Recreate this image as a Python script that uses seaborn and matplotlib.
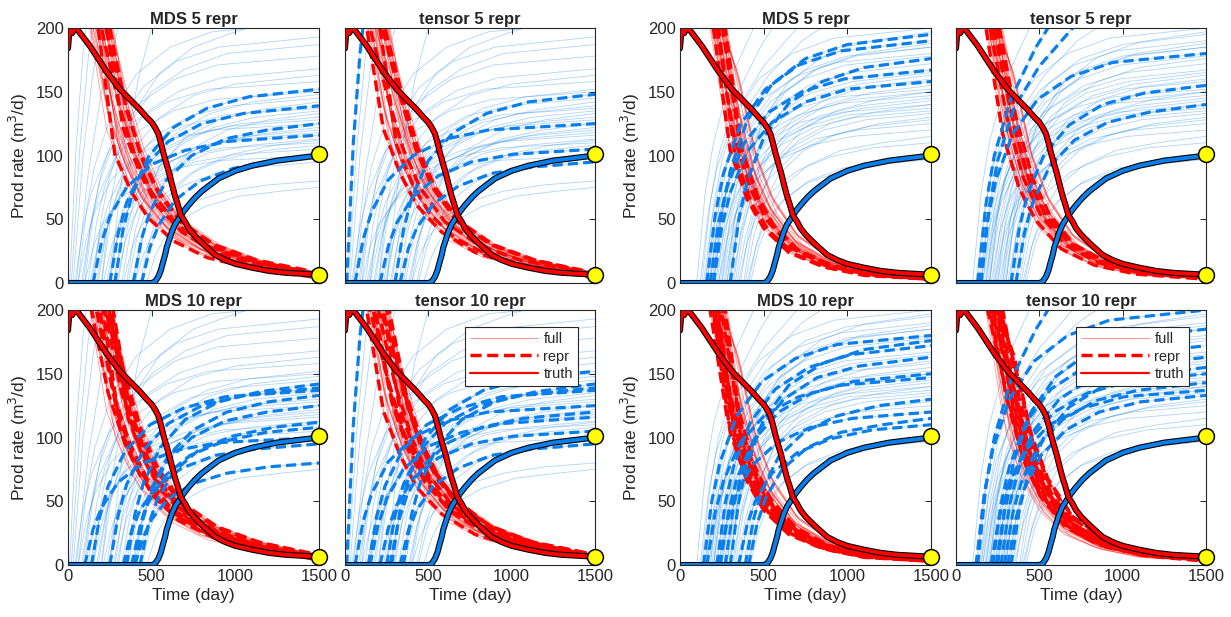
import numpy as np
import pandas as pd
import matplotlib.pyplot as plt
import seaborn as sns
from matplotlib.lines import Line2D

# truth well response (day, rate)
truth_oil_t = [0, 10, 25, 40, 55, 130, 230, 310, 430, 470, 500, 520, 540, 555, 570, 585, 605, 620, 640,
               655, 675, 700, 720, 750, 780, 820, 880, 940, 1000, 1100, 1200, 1300, 1500]
truth_oil_v = [184, 200, 196, 200, 199, 186, 166, 152, 136, 130, 126, 122, 117, 110, 102, 95, 86, 78, 68,
               62, 53, 48, 43, 38, 34, 29, 22, 18, 15, 12, 9.5, 8, 6.5]
truth_wat_t = [0, 500, 520, 540, 555, 565, 580, 590, 605, 620, 640, 660, 690, 720, 760, 800, 850, 900,
               1000, 1100, 1250, 1500]
truth_wat_v = [0, 0, 1, 5, 10, 15, 22, 28, 34, 40, 46, 50, 56, 61, 67, 72, 77, 82, 88, 92, 96, 100]
end_oil = 6.5
end_wat = 101

# left case ensemble, water rate knots (day, rate) per member
left_water = [
    [(10, 0), (50, 110), (90, 180), (130, 225)],
    [(20, 0), (70, 105), (120, 175), (170, 225)],
    [(30, 0), (90, 100), (150, 165), (220, 220)],
    [(50, 0), (120, 85), (200, 150), (300, 200), (360, 225)],
    [(250, 0), (300, 60), (350, 110), (420, 160), (500, 200), (560, 225)],
    [(60, 0), (110, 57), (160, 92), (260, 133), (410, 164), (610, 185), (860, 197), (1500, 205)],
    [(100, 0), (150, 54), (200, 87), (300, 125), (450, 154), (650, 174), (900, 185), (1500, 193)],
    [(150, 0), (200, 52), (250, 84), (350, 122), (500, 150), (700, 168), (950, 180), (1500, 187)],
    [(120, 0), (170, 47), (220, 76), (320, 109), (470, 134), (670, 151), (920, 161), (1500, 168)],
    [(200, 0), (250, 46), (300, 73), (400, 106), (550, 130), (750, 147), (1000, 156), (1500, 163)],
    [(280, 0), (330, 43), (380, 68), (480, 99), (630, 122), (830, 137), (1080, 146), (1500, 152)],
    [(300, 0), (350, 41), (400, 67), (500, 96), (650, 118), (850, 133), (1100, 142), (1500, 148)],
    [(180, 0), (230, 41), (280, 65), (380, 94), (530, 116), (730, 131), (980, 139), (1500, 145)],
    [(250, 0), (300, 39), (350, 63), (450, 90), (600, 111), (800, 125), (1050, 133), (1500, 139)],
    [(140, 0), (190, 38), (240, 62), (340, 89), (490, 110), (690, 123), (940, 132), (1500, 137)],
    [(400, 0), (450, 37), (500, 60), (600, 86), (750, 106), (950, 120), (1200, 128), (1500, 133)],
    [(230, 0), (280, 36), (330, 59), (430, 85), (580, 104), (780, 117), (1030, 125), (1500, 130)],
    [(390, 0), (440, 35), (490, 56), (590, 81), (740, 100), (940, 113), (1190, 120), (1500, 125)],
    [(60, 0), (110, 35), (160, 56), (260, 81), (410, 100), (610, 113), (860, 120), (1500, 125)],
    [(270, 0), (320, 34), (370, 54), (470, 78), (620, 96), (820, 108), (1070, 115), (1500, 120)],
    [(150, 0), (200, 32), (250, 52), (350, 75), (500, 93), (700, 104), (950, 111), (1500, 116)],
    [(430, 0), (480, 31), (530, 50), (630, 73), (780, 90), (980, 101), (1230, 108), (1500, 112)],
    [(380, 0), (430, 30), (480, 49), (580, 70), (730, 86), (930, 97), (1180, 104), (1500, 108)],
    [(210, 0), (260, 29), (310, 47), (410, 68), (560, 84), (760, 95), (1010, 101), (1500, 105)],
    [(440, 0), (490, 28), (540, 45), (640, 65), (790, 80), (990, 90), (1240, 96), (1500, 100)],
    [(330, 0), (380, 27), (430, 43), (530, 62), (680, 76), (880, 86), (1130, 91), (1500, 95)],
    [(400, 0), (450, 22), (500, 36), (600, 52), (750, 64), (950, 72), (1200, 77), (1500, 80)],
    [(470, 0), (520, 21), (570, 34), (670, 49), (820, 60), (1020, 68), (1270, 72), (1500, 75)],
    [(100, 0), (150, 28), (200, 45), (300, 65), (450, 80), (650, 90), (900, 96), (1500, 100)],
    [(350, 0), (400, 40), (450, 64), (550, 92), (700, 114), (900, 128), (1150, 136), (1500, 142)],
    [(80, 0), (130, 42), (180, 68), (280, 98), (430, 120), (630, 135), (880, 144), (1500, 150)],
    [(170, 0), (220, 36), (270, 58), (370, 83), (520, 102), (720, 115), (970, 123), (1500, 128)],
    [(320, 0), (370, 38), (420, 61), (520, 88), (670, 108), (870, 122), (1120, 130), (1500, 135)],
    [(240, 0), (290, 33), (340, 53), (440, 77), (590, 94), (790, 106), (1040, 113), (1500, 118)],
    [(130, 0), (180, 31), (230, 50), (330, 72), (480, 88), (680, 99), (930, 106), (1500, 110)],
    [(360, 0), (410, 34), (460, 55), (560, 79), (710, 98), (910, 110), (1160, 117), (1500, 122)],
    [(90, 0), (140, 50), (190, 80), (290, 116), (440, 142), (640, 160), (890, 171), (1500, 178)],
    [(40, 0), (90, 44), (140, 71), (240, 103), (390, 126), (590, 142), (840, 152), (1500, 158)],
    [(290, 0), (340, 32), (390, 51), (490, 73), (640, 90), (840, 102), (1090, 108), (1500, 113)],
    [(200, 0), (250, 60), (300, 95), (400, 135), (550, 165), (750, 185), (1000, 197), (1200, 205)],
]

# left case ensemble, oil rate knots
left_oil = [
    [(0, 260), (130, 200), (230, 121), (330, 86), (430, 61), (580, 40), (780, 24), (1030, 14), (1500, 5)],
    [(0, 265), (140, 200), (240, 135), (340, 95), (440, 68), (590, 44), (790, 27), (1040, 16), (1500, 6)],
    [(0, 270), (150, 200), (250, 149), (350, 105), (450, 75), (600, 48), (800, 30), (1050, 18), (1500, 7)],
    [(0, 255), (160, 200), (260, 115), (360, 81), (460, 58), (610, 37), (810, 23), (1060, 14), (1500, 5)],
    [(0, 260), (170, 200), (270, 135), (370, 95), (470, 68), (620, 44), (820, 27), (1070, 16), (1500, 6)],
    [(0, 275), (180, 200), (280, 162), (380, 114), (480, 82), (630, 53), (830, 32), (1080, 19), (1500, 8)],
    [(0, 258), (190, 200), (290, 121), (390, 86), (490, 61), (640, 40), (840, 24), (1090, 14), (1500, 5)],
    [(0, 262), (200, 200), (300, 142), (400, 100), (500, 71), (650, 46), (850, 28), (1100, 17), (1500, 7)],
    [(0, 250), (210, 200), (310, 108), (410, 76), (510, 54), (660, 35), (860, 22), (1110, 13), (1500, 4)],
    [(0, 270), (215, 200), (315, 155), (415, 109), (515, 78), (665, 51), (865, 31), (1115, 18), (1500, 8)],
    [(0, 262), (220, 200), (320, 135), (420, 95), (520, 68), (670, 44), (870, 27), (1120, 16), (1500, 6)],
    [(0, 255), (230, 200), (330, 121), (430, 86), (530, 61), (680, 40), (880, 24), (1130, 14), (1500, 5)],
    [(0, 268), (240, 200), (340, 149), (440, 105), (540, 75), (690, 48), (890, 30), (1140, 18), (1500, 7)],
    [(0, 260), (245, 200), (345, 128), (445, 90), (545, 65), (695, 42), (895, 26), (1145, 15), (1500, 6)],
    [(0, 262), (250, 200), (350, 135), (450, 95), (550, 68), (700, 44), (900, 27), (1150, 16), (1500, 6)],
    [(0, 252), (260, 200), (360, 115), (460, 81), (560, 58), (710, 37), (910, 23), (1160, 14), (1500, 5)],
    [(0, 262), (265, 200), (365, 135), (465, 95), (565, 68), (715, 44), (915, 27), (1165, 16), (1500, 6)],
    [(0, 258), (270, 200), (370, 121), (470, 86), (570, 61), (720, 40), (920, 24), (1170, 14), (1500, 5)],
    [(0, 258), (180, 200), (280, 128), (380, 90), (480, 65), (630, 42), (830, 26), (1080, 15), (1500, 6)],
    [(0, 250), (200, 200), (300, 108), (400, 76), (500, 54), (650, 35), (850, 22), (1100, 13), (1500, 4)],
    [(0, 268), (225, 200), (325, 149), (425, 105), (525, 75), (675, 48), (875, 30), (1125, 18), (1500, 8)],
    [(0, 256), (150, 200), (250, 128), (350, 90), (450, 65), (600, 42), (800, 26), (1050, 15), (1500, 6)],
    [(0, 248), (180, 200), (280, 101), (380, 71), (480, 51), (630, 33), (830, 20), (1080, 12), (1500, 4)],
    [(0, 262), (165, 200), (265, 142), (365, 100), (465, 71), (615, 46), (815, 28), (1065, 17), (1500, 7)],
    [(0, 252), (195, 200), (295, 115), (395, 81), (495, 58), (645, 37), (845, 23), (1095, 14), (1500, 5)],
    [(0, 258), (235, 200), (335, 128), (435, 90), (535, 65), (685, 42), (885, 26), (1135, 15), (1500, 6)],
    [(0, 266), (255, 200), (355, 149), (455, 105), (555, 75), (705, 48), (905, 30), (1155, 18), (1500, 7)],
    [(0, 262), (135, 200), (235, 135), (335, 95), (435, 68), (585, 44), (785, 27), (1035, 16), (1500, 6)],
    [(0, 262), (205, 200), (305, 135), (405, 95), (505, 68), (655, 44), (855, 27), (1105, 16), (1500, 6)],
    [(0, 266), (185, 200), (285, 149), (385, 105), (485, 75), (635, 48), (835, 30), (1085, 18), (1500, 7)],
]

# right case ensemble, water rate knots
right_water = [
    [(100, 0), (150, 70), (200, 110), (300, 160), (440, 200), (500, 215)],
    [(130, 0), (180, 62), (230, 100), (330, 145), (480, 185), (600, 210)],
    [(150, 0), (200, 60), (250, 96), (350, 138), (500, 170), (700, 200), (800, 210)],
    [(180, 0), (230, 57), (280, 92), (380, 133), (530, 163), (730, 190), (900, 205)],
    [(120, 0), (170, 56), (220, 90), (320, 130), (470, 160), (670, 180), (920, 192), (1500, 200)],
    [(200, 0), (250, 55), (300, 88), (400, 127), (550, 156), (750, 176), (1000, 187), (1500, 195)],
    [(160, 0), (210, 53), (260, 86), (360, 124), (510, 152), (710, 171), (960, 182), (1500, 190)],
    [(250, 0), (300, 52), (350, 83), (450, 120), (600, 148), (800, 167), (1050, 178), (1500, 185)],
    [(140, 0), (190, 50), (240, 81), (340, 117), (490, 144), (690, 162), (940, 173), (1500, 180)],
    [(300, 0), (350, 49), (400, 79), (500, 114), (650, 141), (850, 158), (1100, 169), (1500, 176)],
    [(220, 0), (270, 48), (320, 77), (420, 112), (570, 138), (770, 155), (1020, 165), (1500, 172)],
    [(180, 0), (230, 47), (280, 75), (380, 109), (530, 134), (730, 150), (980, 160), (1500, 167)],
    [(270, 0), (320, 46), (370, 73), (470, 106), (620, 130), (820, 147), (1070, 156), (1500, 163)],
    [(200, 0), (250, 44), (300, 71), (400, 103), (550, 126), (750, 142), (1000, 152), (1500, 158)],
    [(330, 0), (380, 43), (430, 70), (530, 101), (680, 124), (880, 140), (1130, 149), (1500, 155)],
    [(240, 0), (290, 42), (340, 68), (440, 98), (590, 120), (790, 135), (1040, 144), (1500, 150)],
    [(160, 0), (210, 41), (260, 66), (360, 96), (510, 118), (710, 132), (960, 141), (1500, 147)],
    [(290, 0), (340, 40), (390, 64), (490, 93), (640, 114), (840, 129), (1090, 137), (1500, 143)],
    [(360, 0), (410, 39), (460, 63), (560, 91), (710, 112), (910, 126), (1160, 134), (1500, 140)],
    [(210, 0), (260, 38), (310, 62), (410, 89), (560, 110), (760, 123), (1010, 132), (1500, 137)],
    [(310, 0), (360, 37), (410, 60), (510, 86), (660, 106), (860, 120), (1110, 128), (1500, 133)],
    [(390, 0), (440, 36), (490, 59), (590, 85), (740, 104), (940, 117), (1190, 125), (1500, 130)],
    [(260, 0), (310, 35), (360, 56), (460, 81), (610, 100), (810, 113), (1060, 120), (1500, 125)],
    [(410, 0), (460, 32), (510, 52), (610, 75), (760, 92), (960, 104), (1210, 110), (1500, 115)],
    [(350, 0), (400, 31), (450, 50), (550, 72), (700, 88), (900, 99), (1150, 106), (1500, 110)],
    [(420, 0), (470, 28), (520, 45), (620, 65), (770, 80), (970, 90), (1220, 96), (1500, 100)],
    [(230, 0), (280, 34), (330, 54), (430, 78), (580, 96), (780, 108), (1030, 115), (1500, 120)],
    [(280, 0), (330, 53), (380, 85), (480, 122), (630, 150), (830, 169), (1080, 180), (1500, 188)],
    [(190, 0), (240, 50), (290, 80), (390, 116), (540, 142), (740, 160), (990, 171), (1500, 178)],
    [(230, 0), (280, 46), (330, 74), (430, 107), (580, 132), (780, 149), (1030, 158), (1500, 165)],
    [(320, 0), (370, 45), (420, 72), (520, 104), (670, 128), (870, 144), (1120, 154), (1500, 160)],
    [(150, 0), (200, 43), (250, 68), (350, 99), (500, 122), (700, 137), (950, 146), (1500, 152)],
    [(280, 0), (330, 41), (380, 65), (480, 94), (630, 116), (830, 131), (1080, 139), (1500, 145)],
    [(380, 0), (430, 42), (480, 68), (580, 98), (730, 120), (930, 135), (1180, 144), (1500, 150)],
    [(250, 0), (300, 38), (350, 61), (450, 88), (600, 108), (800, 122), (1050, 130), (1500, 135)],
    [(340, 0), (390, 36), (440, 58), (540, 83), (690, 102), (890, 115), (1140, 123), (1500, 128)],
    [(200, 0), (250, 52), (300, 83), (400, 120), (550, 148), (750, 167), (1000, 178), (1500, 185)],
    [(300, 0), (350, 55), (400, 89), (500, 128), (650, 158), (850, 177), (1100, 189), (1500, 197)],
    [(400, 0), (450, 27), (500, 44), (600, 63), (750, 78), (950, 87), (1200, 93), (1500, 97)],
    [(170, 0), (220, 39), (270, 63), (370, 91), (520, 112), (720, 126), (970, 134), (1500, 140)],
]

# right case ensemble, oil rate knots
right_oil = [
    [(0, 250), (180, 200), (280, 117), (380, 74), (480, 49), (630, 27), (830, 14), (1080, 7), (1500, 3)],
    [(0, 262), (190, 200), (290, 143), (390, 90), (490, 59), (640, 33), (840, 18), (1090, 9), (1500, 5)],
    [(0, 245), (200, 200), (300, 104), (400, 66), (500, 43), (650, 24), (850, 13), (1100, 6), (1500, 3)],
    [(0, 255), (205, 200), (305, 130), (405, 82), (505, 54), (655, 30), (855, 16), (1105, 8), (1500, 4)],
    [(0, 265), (210, 200), (310, 156), (410, 98), (510, 65), (660, 36), (860, 19), (1110, 10), (1500, 5)],
    [(0, 250), (220, 200), (320, 117), (420, 74), (520, 49), (670, 27), (870, 14), (1120, 7), (1500, 3)],
    [(0, 258), (225, 200), (325, 137), (425, 86), (525, 57), (675, 32), (875, 17), (1125, 8), (1500, 4)],
    [(0, 242), (230, 200), (330, 98), (430, 62), (530, 41), (680, 23), (880, 12), (1130, 6), (1500, 3)],
    [(0, 262), (240, 200), (340, 143), (440, 90), (540, 59), (690, 33), (890, 18), (1140, 9), (1500, 5)],
    [(0, 252), (245, 200), (345, 124), (445, 78), (545, 51), (695, 29), (895, 15), (1145, 8), (1500, 4)],
    [(0, 268), (250, 200), (350, 163), (450, 103), (550, 68), (700, 38), (900, 20), (1150, 10), (1500, 6)],
    [(0, 248), (255, 200), (355, 111), (455, 70), (555, 46), (705, 26), (905, 14), (1155, 7), (1500, 3)],
    [(0, 256), (260, 200), (360, 130), (460, 82), (560, 54), (710, 30), (910, 16), (1160, 8), (1500, 4)],
    [(0, 264), (265, 200), (365, 150), (465, 94), (565, 62), (715, 35), (915, 18), (1165, 9), (1500, 5)],
    [(0, 246), (270, 200), (370, 104), (470, 66), (570, 43), (720, 24), (920, 13), (1170, 6), (1500, 3)],
    [(0, 256), (280, 200), (380, 130), (480, 82), (580, 54), (730, 30), (930, 16), (1180, 8), (1500, 4)],
    [(0, 252), (195, 200), (295, 124), (395, 78), (495, 51), (645, 29), (845, 15), (1095, 8), (1500, 4)],
    [(0, 270), (235, 200), (335, 169), (435, 107), (535, 70), (685, 39), (885, 21), (1135, 10), (1500, 6)],
    [(0, 248), (215, 200), (315, 111), (415, 70), (515, 46), (665, 26), (865, 14), (1115, 7), (1500, 3)],
    [(0, 250), (250, 200), (350, 117), (450, 74), (550, 49), (700, 27), (900, 14), (1150, 7), (1500, 3)],
    [(0, 255), (185, 200), (285, 130), (385, 82), (485, 54), (635, 30), (835, 16), (1085, 8), (1500, 4)],
    [(0, 262), (200, 200), (300, 150), (400, 94), (500, 62), (650, 35), (850, 18), (1100, 9), (1500, 5)],
    [(0, 252), (230, 200), (330, 124), (430, 78), (530, 51), (680, 29), (880, 15), (1130, 8), (1500, 4)],
    [(0, 248), (240, 200), (340, 111), (440, 70), (540, 46), (690, 26), (890, 14), (1140, 7), (1500, 3)],
    [(0, 265), (260, 200), (360, 156), (460, 98), (560, 65), (710, 36), (910, 19), (1160, 10), (1500, 5)],
    [(0, 250), (275, 200), (375, 117), (475, 74), (575, 49), (725, 27), (925, 14), (1175, 7), (1500, 3)],
    [(0, 255), (210, 200), (310, 130), (410, 82), (510, 54), (660, 30), (860, 16), (1110, 8), (1500, 4)],
    [(0, 258), (245, 200), (345, 137), (445, 86), (545, 57), (695, 32), (895, 17), (1145, 8), (1500, 4)],
]

# representative members picked in each panel (water idx, oil idx)
left_mds5 = ([10, 13, 17, 20, 24], [22, 7, 11, 14, 20])
left_tensor5 = ([0, 11, 18, 23, 25], [0, 2, 8, 12, 20])
left_mds10 = ([29, 13, 14, 15, 17, 21, 22, 28, 25, 26], [1, 4, 6, 8, 10, 12, 13, 15, 17, 20])
left_tensor10 = ([0, 10, 29, 13, 14, 18, 20, 23, 25, 19], [0, 2, 4, 7, 9, 11, 14, 16, 18, 20])
right_mds5 = ([5, 6, 9, 11, 13], [2, 5, 7, 11, 14])
right_tensor5 = ([1, 2, 8, 14, 18], [0, 3, 6, 9, 12])
right_mds10 = ([8, 9, 10, 12, 15, 16, 21, 23, 24, 26], [0, 2, 3, 5, 7, 9, 11, 14, 16, 18])
right_tensor10 = ([4, 7, 10, 12, 14, 15, 17, 19, 20, 1], [1, 3, 4, 6, 8, 10, 12, 13, 15, 19])

RED = '#ff0000'
BLUE = '#0a7fec'
DASH = (0, (3.2, 1.6))
GRAY = '#262626'

sns.set_theme(style='white')
plt.rcParams['font.family'] = ['Liberation Sans', 'DejaVu Sans']


def to_long(curves):
    rows = []
    for m, pts in enumerate(curves):
        for t, v in pts:
            rows.append((m, t, v))
    return pd.DataFrame(rows, columns=['member', 'day', 'rate'])


def draw_panel(ax, water, oil, picks, title):
    d_w = to_long(water)
    d_o = to_long(oil)
    w_idx, o_idx = picks
    common = dict(x='day', y='rate', units='member', estimator=None, sort=False, legend=False, ax=ax)
    sns.lineplot(data=d_w, color=BLUE, lw=0.6, alpha=0.33, **common)
    sns.lineplot(data=d_o, color=RED, lw=0.6, alpha=0.4, **common)
    sns.lineplot(data=d_o[d_o.member.isin(o_idx)], color=RED, lw=2.5, ls=DASH, **common)
    sns.lineplot(data=d_w[d_w.member.isin(w_idx)], color=BLUE, lw=2.3, ls=DASH, **common)
    tw = pd.DataFrame({'day': truth_wat_t, 'rate': truth_wat_v})
    to = pd.DataFrame({'day': truth_oil_t, 'rate': truth_oil_v})
    for df, c in [(tw, BLUE), (to, RED)]:
        sns.lineplot(data=df, x='day', y='rate', color='black', lw=4.4, sort=False, ax=ax, legend=False)
        sns.lineplot(data=df, x='day', y='rate', color=c, lw=2.8, sort=False, ax=ax, legend=False)
    ends = pd.DataFrame({'day': [1500, 1500], 'rate': [end_oil, end_wat]})
    sns.scatterplot(data=ends, x='day', y='rate', s=130, color='#ffff00', edgecolor='black',
                    linewidth=1.1, zorder=10, clip_on=False, ax=ax, legend=False)
    ax.set_xlim(0, 1500)
    ax.set_ylim(0, 200)
    ax.set_xticks([0, 500, 1000, 1500])
    ax.set_yticks([0, 50, 100, 150, 200])
    ax.set_title(title, fontsize=12, fontweight='bold', pad=3)
    ax.set_xlabel('')
    ax.set_ylabel('')
    ax.tick_params(direction='in', length=4, width=0.7, top=True, right=True,
                   labelsize=12, colors=GRAY, pad=3)
    for s in ax.spines.values():
        s.set_color(GRAY)
        s.set_linewidth(0.8)


W, H = 1231, 617
fig = plt.figure(figsize=(W / 100, H / 100), dpi=100)
cols = [(68, 319), (345, 595), (680, 931), (956, 1206)]
rows = [(28, 283), (310, 565)]

panels = [
    (0, 0, left_water, left_oil, left_mds5, 'MDS 5 repr'),
    (1, 0, left_water, left_oil, left_tensor5, 'tensor 5 repr'),
    (0, 1, left_water, left_oil, left_mds10, 'MDS 10 repr'),
    (1, 1, left_water, left_oil, left_tensor10, 'tensor 10 repr'),
    (2, 0, right_water, right_oil, right_mds5, 'MDS 5 repr'),
    (3, 0, right_water, right_oil, right_tensor5, 'tensor 5 repr'),
    (2, 1, right_water, right_oil, right_mds10, 'MDS 10 repr'),
    (3, 1, right_water, right_oil, right_tensor10, 'tensor 10 repr'),
]

for c, r, water, oil, picks, title in panels:
    x0, x1 = cols[c]
    y0, y1 = rows[r]
    ax = fig.add_axes([x0 / W, 1 - y1 / H, (x1 - x0) / W, (y1 - y0) / H])
    draw_panel(ax, water, oil, picks, title)
    if c in (0, 2):
        ax.set_ylabel('Prod rate (m$^3$/d)', fontsize=12.5, color=GRAY, labelpad=4)
    else:
        ax.tick_params(labelleft=False)
    if r == 1:
        ax.set_xlabel('Time (day)', fontsize=12.5, color=GRAY, labelpad=3)
    else:
        ax.tick_params(labelbottom=False)
    if c in (1, 3) and r == 1:
        handles = [Line2D([], [], color=RED, lw=0.6, alpha=0.5),
                   Line2D([], [], color=RED, lw=2.5, ls=DASH),
                   Line2D([], [], color=RED, lw=1.6)]
        leg = ax.legend(handles, ['full', 'repr', 'truth'], loc='upper right',
                        bbox_to_anchor=(0.932, 0.934), fancybox=False, framealpha=1,
                        edgecolor=GRAY, fontsize=10.5, handlelength=4.6, borderpad=0.35,
                        labelspacing=0.25, handletextpad=0.4, borderaxespad=0)
        leg.get_frame().set_linewidth(0.8)

fig.savefig('out.png', dpi=100)
